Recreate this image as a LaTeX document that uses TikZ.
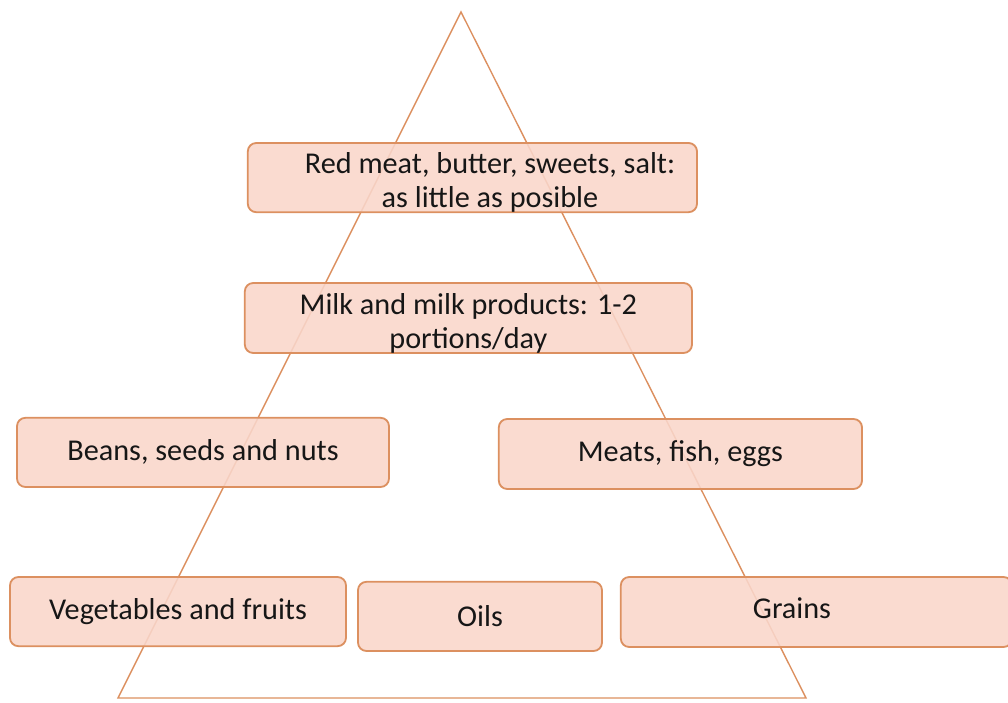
\documentclass[tikz,border=0pt]{standalone}
\usepackage{fontspec}
\setmainfont{Carlito}
\usepackage{xcolor}
\usepackage{tikz}
\usetikzlibrary{positioning}
\definecolor{edgeorange}{HTML}{DC9060}
\definecolor{boxpink}{HTML}{F9D6CA}
\definecolor{darktext}{HTML}{161616}

\begin{document}
\begin{tikzpicture}[
    level/.style={draw=edgeorange, fill=boxpink, fill opacity=0.88, text opacity=1,
        line width=1.3pt, rounded corners=6pt, inner sep=0pt, align=center,
        font=\fontsize{21.5}{24.5}\selectfont, text=darktext},
    label/.style={font=\fontsize{21.5}{24.5}\selectfont, text=darktext, align=center},
    side/.style={draw=edgeorange, line width=1pt},
]
\useasboundingbox (0,0) rectangle (25.2,17.55);
% pyramid outline
\coordinate (apex) at (11.525,17.25);
\coordinate (baseL) at (2.95,0.1);
\coordinate (baseR) at (20.15,0.1);
\draw[side] (apex) -- (baseL) -- (baseR) -- cycle;
% levels, top to bottom
\node[level, minimum width=11.23cm, minimum height=1.73cm] (redmeat) at (11.81,13.11) {};
\node[label] (redmeatlab) at (12.25,12.99) {Red meat, butter, sweets, salt:\\as little as posible};
\node[level, minimum width=11.18cm, minimum height=1.75cm] (milk) at (11.71,9.6) {};
\node[label] (milklab) at (11.71,9.47) {Milk and milk products: 1-2\\portions/day};
\node[level, minimum width=9.3cm, minimum height=1.73cm] (beans) at (5.075,6.24) {Beans, seeds and nuts};
\node[level, minimum width=9.08cm, minimum height=1.75cm] (meats) at (17.01,6.2) {Meats, fish, eggs};
\node[level, minimum width=8.4cm, minimum height=1.73cm] (veg) at (4.45,2.26) {Vegetables and fruits};
\node[level, minimum width=6.1cm, minimum height=1.73cm] (oils) at (12.0,2.14) {Oils};
\node[level, minimum width=9.78cm, minimum height=1.75cm] (grains) at (20.41,2.25) {};
\node[label] (grainslab) at (19.8,2.35) {Grains};
\end{tikzpicture}
\end{document}
